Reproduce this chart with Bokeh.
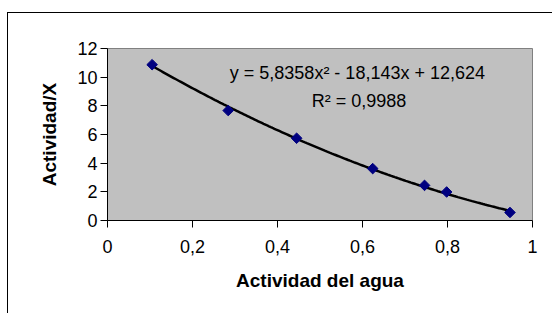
import numpy as np
from bokeh.plotting import figure
from bokeh.models import FixedTicker, CustomJSTickFormatter, Label, Range1d
from bokeh.embed import file_html
from bokeh.resources import INLINE

# Data
aw = [0.105, 0.284, 0.445, 0.624, 0.746, 0.798, 0.947]
act_x = [10.87, 7.67, 5.74, 3.62, 2.45, 1.99, 0.56]
x_ticks = [0, 0.2, 0.4, 0.6, 0.8, 1]
y_ticks = [0, 2, 4, 6, 8, 10, 12]

# Polynomial trendline coefficients (as displayed)
coef_a, coef_b, coef_c = 5.8358, -18.143, 12.624
equation_text = "y = 5,8358x\u00b2 - 18,143x + 12,624"
r2_text = "R\u00b2 = 0,9988"

FONT = "Liberation Sans"

p = figure(width=545, height=301, output_backend="svg", toolbar_location=None,
           x_range=Range1d(0, 1), y_range=Range1d(0, 12),
           min_border_left=100, min_border_right=20, min_border_top=36,
           min_border_bottom=93)
# outer chart border: only its top and left edges fall inside the picture
p.styles = {"margin-left": "7px", "margin-top": "12px",
            "box-shadow": "inset 1px 1px 0 0 black",
            "background-color": "white"}

p.background_fill_color = "#c0c0c0"
p.border_fill_color = None
p.outline_line_color = "#808080"
p.outline_line_width = 1
p.xgrid.visible = False
p.ygrid.visible = False

# trendline
xs = np.linspace(min(aw), max(aw), 200)
ys = coef_a * xs ** 2 + coef_b * xs + coef_c
p.line(xs, ys, line_color="black", line_width=2.5)

# points
p.scatter(aw, act_x, marker="square", angle=np.pi / 4, size=7.5,
          fill_color="#000080", line_color="#000080")

fmt = CustomJSTickFormatter(code="var s = (Math.round(tick*10)/10).toString(); return s.replace('.', ',');")

p.xaxis.ticker = FixedTicker(ticks=x_ticks)
p.xaxis.formatter = fmt
p.yaxis.ticker = FixedTicker(ticks=y_ticks)

for ax in (p.xaxis[0], p.yaxis[0]):
    ax.axis_line_color = "black"
    ax.axis_line_width = 1
    ax.major_tick_line_color = "black"
    ax.major_tick_in = 0
    ax.major_tick_out = 7
    ax.minor_tick_line_color = None
    ax.major_label_text_font = FONT
    ax.major_label_text_font_size = "18px"
    ax.major_label_text_color = "black"
    ax.axis_label_text_font = FONT
    ax.axis_label_text_font_size = "19px"
    ax.axis_label_text_font_style = "bold"
    ax.axis_label_text_color = "black"

p.xaxis.axis_label = "Actividad del agua"
p.yaxis.axis_label = "Actividad/X"
p.xaxis.major_label_standoff = 12
p.yaxis.major_label_standoff = 3
p.xaxis.axis_label_standoff = 14
p.yaxis.axis_label_standoff = 14

p.add_layout(Label(x=0.588, y=10.31, text=equation_text, text_align="center",
                   text_baseline="middle", text_font=FONT, text_font_size="18px",
                   text_color="black"))
p.add_layout(Label(x=0.592, y=8.33, text=r2_text, text_align="center",
                   text_baseline="middle", text_font=FONT, text_font_size="18px",
                   text_color="black"))

open("out.html", "w").write(file_html(p, INLINE))
